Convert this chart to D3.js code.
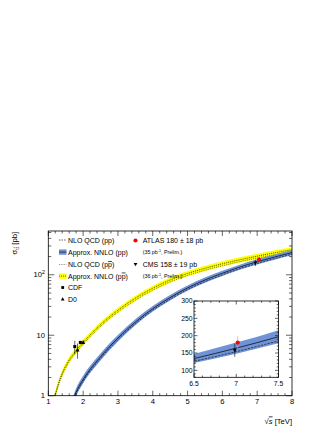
<!DOCTYPE html>
<html>
<head>
<meta charset="utf-8">
<script src="https://cdn.jsdelivr.net/npm/d3@7"></script>
<style>
  body { margin: 0; background: #fff; }
  svg text { font-family: "Liberation Sans", Arial, Helvetica, sans-serif; fill: #000; }
</style>
</head>
<body>
<div id="chart"></div>
<script>
// --- pp curves (sqrt(s) in TeV, sigma in pb)
const ppEnergy = [1.6, 1.7, 1.8, 2.0, 2.5, 3.0, 3.5, 4.0, 4.5, 5.0, 5.5, 6.0, 6.5, 7.0, 7.5, 8.0];
const ppNNLO   = [0.55, 0.81, 1.15, 1.85, 4.4, 9.0, 16.5, 27.5, 42, 60.5, 82, 106, 134, 164, 197, 233];
const ppNNLOHi = [0.64, 0.94, 1.33, 2.13, 5.0, 10.1, 18.4, 30.4, 46.2, 66.5, 90.2, 116.6, 147, 180, 216, 256];
const ppNNLOLo = [0.47, 0.69, 0.98, 1.59, 3.83, 7.9, 14.6, 24.6, 37.6, 54.2, 73.6, 95.2, 121, 148, 178, 210];
const ppNLO    = [0.52, 0.76, 1.08, 1.74, 4.14, 8.5, 15.5, 25.9, 39.5, 57, 77, 99.6, 126, 154, 185, 219];

// --- p-pbar curves
const pbEnergy = [1.1, 1.15, 1.2, 1.3, 1.4, 1.5, 1.6, 1.8, 2.0, 2.5, 3.0, 3.5, 4.0, 4.5, 5.0, 5.5, 6.0, 6.5, 7.0, 7.5, 8.0];
const pbNNLO   = [0.58, 0.8, 1.05, 1.65, 2.35, 3.1, 3.9, 5.6, 7.6, 15, 26, 41, 60, 82, 105, 128, 152, 177, 203, 231, 260];
const pbNNLOHi = [0.66, 0.91, 1.19, 1.86, 2.64, 3.47, 4.35, 6.2, 8.4, 16.5, 28.6, 45, 66, 90, 115.5, 141, 167, 195, 223, 254, 286];
const pbNNLOLo = [0.5, 0.7, 0.92, 1.45, 2.07, 2.74, 3.46, 5.0, 6.8, 13.5, 23.4, 37, 54, 74, 94.5, 115, 137, 159, 183, 208, 234];
const pbNLO    = [0.54, 0.75, 0.98, 1.54, 2.19, 2.89, 3.63, 5.2, 7.07, 14, 24.2, 38, 55.8, 76, 97.6, 119, 141, 165, 189, 215, 242];

// --- measurements
const cdfEnergy = [1.76, 1.92];
const cdfSigma  = [6.5, 7.6];
const cdfErr    = [1.6, 0.5];
const d0Energy  = [1.84, 2.0];
const d0Sigma   = [5.7, 7.6];
const d0Err     = [1.6, 0.6];
const lhcNames  = ["ATLAS", "CMS"];
const lhcEnergy = [7.0, 7.0];
const lhcSigma  = [180, 158];
const lhcErr    = [18, 19];

const xTickLabels = [1, 2, 3, 4, 5, 6, 7, 8];
const insetXTicks = [6.5, 7, 7.5];
const insetYTicks = [100, 150, 200, 250, 300];

const W = 332, H = 430;
const FONT = 7.6;

const svg = d3.select("#chart").append("svg")
  .attr("width", W).attr("height", H);

const L = 48.3, R = 292, T = 231, B = 395.7;
const x = d3.scaleLinear().domain([1, 8]).range([L, R]);
const y = d3.scaleLog().domain([1, 530]).range([B, T]);

const defs = svg.append("defs");
defs.append("clipPath").attr("id", "clipMain")
  .append("rect").attr("x", L).attr("y", T).attr("width", R - L).attr("height", B - T);

function zipRows(es, mid, hi, lo, nlo) {
  return es.map((e, i) => ({ e, mid: mid[i], hi: hi[i], lo: lo[i], nlo: nlo[i] }));
}
const ppRows = zipRows(ppEnergy, ppNNLO, ppNNLOHi, ppNNLOLo, ppNLO);
const pbRows = zipRows(pbEnergy, pbNNLO, pbNNLOHi, pbNNLOLo, pbNLO);

const BLUE = "#7093d6";
const YELLOW = "#ffff00";

function drawCurves(g, sx, sy, rows, fill, midDash, nloDash) {
  const area = d3.area().curve(d3.curveMonotoneX)
    .x(d => sx(d.e)).y0(d => sy(d.lo)).y1(d => sy(d.hi));
  const mid = d3.line().curve(d3.curveMonotoneX).x(d => sx(d.e)).y(d => sy(d.mid));
  const nlo = d3.line().curve(d3.curveMonotoneX).x(d => sx(d.e)).y(d => sy(d.nlo));
  g.append("path").datum(rows).attr("d", area).attr("fill", fill).attr("stroke", "none");
  g.append("path").datum(rows).attr("d", nlo).attr("fill", "none")
    .attr("stroke", "#000").attr("stroke-width", 0.6).attr("stroke-dasharray", nloDash);
  g.append("path").datum(rows).attr("d", mid).attr("fill", "none")
    .attr("stroke", "#000").attr("stroke-width", 0.7)
    .attr("stroke-dasharray", midDash);
}

// main plot curves
const gMain = svg.append("g").attr("clip-path", "url(#clipMain)");
drawCurves(gMain, x, y, pbRows, YELLOW, "1,1", "0.8,1.2");
drawCurves(gMain, x, y, ppRows, BLUE, null, "2,1.2");

// markers
function errBar(g, px, y0, y1, color) {
  g.append("line").attr("x1", px).attr("x2", px).attr("y1", y0).attr("y2", y1)
    .attr("stroke", color).attr("stroke-width", 0.6);
}
function square(g, px, py, s) {
  g.append("rect").attr("x", px - s / 2).attr("y", py - s / 2).attr("width", s).attr("height", s).attr("fill", "#000");
}
function triUp(g, px, py, s, fill) {
  g.append("path").attr("d", `M${px},${py - s * 0.6}L${px + s * 0.55},${py + s * 0.4}L${px - s * 0.55},${py + s * 0.4}Z`).attr("fill", fill);
}
function triDown(g, px, py, s, fill) {
  g.append("path").attr("d", `M${px},${py + s * 0.6}L${px + s * 0.55},${py - s * 0.4}L${px - s * 0.55},${py - s * 0.4}Z`).attr("fill", fill);
}

const gPts = svg.append("g");
cdfEnergy.forEach((e, i) => {
  errBar(gPts, x(e), y(cdfSigma[i] - cdfErr[i]), y(cdfSigma[i] + cdfErr[i]), "#000");
  square(gPts, x(e), y(cdfSigma[i]), 3);
});
d0Energy.forEach((e, i) => {
  errBar(gPts, x(e), y(d0Sigma[i] - d0Err[i]), y(d0Sigma[i] + d0Err[i]), "#000");
  triUp(gPts, x(e), y(d0Sigma[i]), 3.6, "#000");
});
// LHC points (drawn slightly apart so both stay visible)
errBar(gPts, x(lhcEnergy[1]) - 1.8, y(lhcSigma[1] - lhcErr[1]), y(lhcSigma[1] + lhcErr[1]), "#000");
triDown(gPts, x(lhcEnergy[1]) - 1.8, y(lhcSigma[1]), 3.4, "#000");
errBar(gPts, x(lhcEnergy[0]) + 1.8, y(lhcSigma[0] - lhcErr[0]), y(lhcSigma[0] + lhcErr[0]), "#999");
gPts.append("circle").attr("cx", x(lhcEnergy[0]) + 1.8).attr("cy", y(lhcSigma[0])).attr("r", 1.9).attr("fill", "#f00");

// frame + ticks
const gAx = svg.append("g").attr("stroke", "#000").attr("stroke-width", 0.6);
gAx.append("rect").attr("x", L).attr("y", T).attr("width", R - L).attr("height", B - T)
  .attr("fill", "none").attr("stroke-width", 0.8);
d3.range(1, 8.0001, 0.2).forEach(v => {
  const major = Math.abs(v - Math.round(v)) < 1e-6;
  const len = major ? 5 : 2.5;
  gAx.append("line").attr("x1", x(v)).attr("x2", x(v)).attr("y1", B).attr("y2", B - len);
  gAx.append("line").attr("x1", x(v)).attr("x2", x(v)).attr("y1", T).attr("y2", T + len);
});
y.ticks().forEach(v => {
  const major = Math.abs(Math.log10(v) - Math.round(Math.log10(v))) < 1e-6;
  const len = major ? 6 : 3;
  gAx.append("line").attr("x1", L).attr("x2", L + len).attr("y1", y(v)).attr("y2", y(v));
  gAx.append("line").attr("x1", R).attr("x2", R - len).attr("y1", y(v)).attr("y2", y(v));
});

// tick labels
const gLab = svg.append("g").attr("font-size", FONT);
xTickLabels.forEach(v => {
  gLab.append("text").attr("x", x(v)).attr("y", 404.3).attr("text-anchor", "middle").text(v);
});
gLab.append("text").attr("x", 45).attr("y", y(1) + 2.7).attr("text-anchor", "end").text("1");
gLab.append("text").attr("x", 45).attr("y", y(10) + 2.7).attr("text-anchor", "end").text("10");
const t100 = gLab.append("text").attr("x", 45).attr("y", y(100) + 2.7).attr("text-anchor", "end");
t100.append("tspan").text("10");
t100.append("tspan").attr("font-size", 5.4).attr("dy", -3.2).text("2");

// axis titles
const xt = svg.append("text").attr("x", R).attr("y", 423.5).attr("text-anchor", "end").attr("font-size", FONT);
xt.append("tspan").text("\u221A");
xt.append("tspan").attr("font-style", "italic").style("text-decoration", "overline").text("s");
xt.append("tspan").text(" [TeV]");

const yt = svg.append("text").attr("transform", `translate(17,${T + 1}) rotate(-90)`)
  .attr("text-anchor", "end").attr("font-size", FONT);
yt.append("tspan").text("\u03C3");
yt.append("tspan").attr("font-size", 5.2).attr("dy", 1.8).text("t");
yt.append("tspan").attr("font-size", 5.2).style("text-decoration", "overline").text("t");
yt.append("tspan").attr("dy", -1.8).text(" [pb]");

// legend
const LF = 7, SF = 5.3;
const gLeg = svg.append("g");
const lx0 = 59, lx1 = 66.5, ltx = 68;
function legText(px, py, size, parts) {
  const t = gLeg.append("text").attr("x", px).attr("y", py + size * 0.36).attr("font-size", size);
  parts.forEach(p => {
    const s = t.append("tspan").text(p.t);
    if (p.bar) s.style("text-decoration", "overline");
    if (p.sup) s.attr("font-size", size * 0.7).attr("dy", -size * 0.35);
    if (p.down) s.attr("dy", size * 0.35);
  });
}
// NLO pp
gLeg.append("line").attr("x1", lx0).attr("x2", lx1).attr("y1", 240).attr("y2", 240)
  .attr("stroke", "#000").attr("stroke-width", 0.6).attr("stroke-dasharray", "1.5,1");
legText(ltx, 240, LF, [{ t: "NLO QCD (pp)" }]);
// NNLO pp
gLeg.append("rect").attr("x", lx0).attr("y", 249.4).attr("width", lx1 - lx0).attr("height", 5.4).attr("fill", BLUE);
gLeg.append("line").attr("x1", lx0).attr("x2", lx1).attr("y1", 252.1).attr("y2", 252.1)
  .attr("stroke", "#000").attr("stroke-width", 0.6);
legText(ltx, 252.1, LF, [{ t: "Approx. NNLO (pp)" }]);
// NLO ppbar
gLeg.append("line").attr("x1", lx0).attr("x2", lx1).attr("y1", 264.5).attr("y2", 264.5)
  .attr("stroke", "#000").attr("stroke-width", 0.5).attr("stroke-dasharray", "0.8,1");
legText(ltx, 264.5, LF, [{ t: "NLO QCD (p" }, { t: "p", bar: true }, { t: ")" }]);
// NNLO ppbar
gLeg.append("rect").attr("x", lx0).attr("y", 273.4).attr("width", lx1 - lx0).attr("height", 5.4).attr("fill", YELLOW);
gLeg.append("line").attr("x1", lx0).attr("x2", lx1).attr("y1", 276.1).attr("y2", 276.1)
  .attr("stroke", "#000").attr("stroke-width", 0.6).attr("stroke-dasharray", "1,1");
legText(ltx, 276.1, LF, [{ t: "Approx. NNLO (p" }, { t: "p", bar: true }, { t: ")" }]);
// CDF, D0
square(gLeg, 62.7, 287.5, 2.8);
legText(ltx, 287.5, LF, [{ t: "CDF" }]);
triUp(gLeg, 62.7, 299.2, 3.4, "#000");
legText(ltx, 299.2, LF, [{ t: "D0" }]);
// ATLAS, CMS
gLeg.append("circle").attr("cx", 135.5).attr("cy", 240.5).attr("r", 2.1).attr("fill", "#f00");
legText(142.7, 240.5, LF, [{ t: `${lhcNames[0]} ${lhcSigma[0]} \u00B1 ${lhcErr[0]} pb` }]);
legText(142.7, 252, SF, [{ t: "(35 pb" }, { t: "-1", sup: true }, { t: ", Prelim.)", down: true }]);
triDown(gLeg, 135.5, 264.3, 3.4, "#000");
legText(142.7, 264.3, LF, [{ t: `${lhcNames[1]} ${lhcSigma[1]} \u00B1 ${lhcErr[1]} pb` }]);
legText(142.7, 275.8, SF, [{ t: "(36 pb" }, { t: "-1", sup: true }, { t: ", Prelim.)", down: true }]);

// ---- inset
const iL = 194, iR = 278.5, iT = 301, iB = 377.3;
const xi = d3.scaleLinear().domain([6.5, 7.5]).range([iL, iR]);
const yi = d3.scaleLinear().domain([80, 300]).range([iB, iT]);
defs.append("clipPath").attr("id", "clipInset")
  .append("rect").attr("x", iL).attr("y", iT).attr("width", iR - iL).attr("height", iB - iT);
svg.append("rect").attr("x", iL).attr("y", iT).attr("width", iR - iL).attr("height", iB - iT).attr("fill", "#fff");
const gIn = svg.append("g").attr("clip-path", "url(#clipInset)");
drawCurves(gIn, xi, yi, ppRows, BLUE, null, "2.2,1.2");

const gInPts = svg.append("g");
errBar(gInPts, xi(lhcEnergy[1]) - 1.5, yi(lhcSigma[1] - lhcErr[1]), yi(lhcSigma[1] + lhcErr[1]), "#000");
triDown(gInPts, xi(lhcEnergy[1]) - 1.5, yi(lhcSigma[1]), 3.6, "#000");
errBar(gInPts, xi(lhcEnergy[0]) + 1.5, yi(lhcSigma[0] - lhcErr[0]), yi(lhcSigma[0] + lhcErr[0]), "#aaa");
gInPts.append("circle").attr("cx", xi(lhcEnergy[0]) + 1.5).attr("cy", yi(lhcSigma[0])).attr("r", 2.1).attr("fill", "#f00");

const gInAx = svg.append("g").attr("stroke", "#000").attr("stroke-width", 0.6);
gInAx.append("rect").attr("x", iL).attr("y", iT).attr("width", iR - iL).attr("height", iB - iT)
  .attr("fill", "none").attr("stroke-width", 0.8);
d3.range(6.5, 7.5001, 0.1).forEach(v => {
  const major = insetXTicks.some(t => Math.abs(t - v) < 1e-6);
  const len = major ? 3.5 : 1.8;
  gInAx.append("line").attr("x1", xi(v)).attr("x2", xi(v)).attr("y1", iB).attr("y2", iB - len);
  gInAx.append("line").attr("x1", xi(v)).attr("x2", xi(v)).attr("y1", iT).attr("y2", iT + len);
});
d3.range(80, 300.001, 10).forEach(v => {
  const major = insetYTicks.includes(v);
  const len = major ? 3.5 : 1.8;
  gInAx.append("line").attr("x1", iL).attr("x2", iL + len).attr("y1", yi(v)).attr("y2", yi(v));
  gInAx.append("line").attr("x1", iR).attr("x2", iR - len).attr("y1", yi(v)).attr("y2", yi(v));
});
const gInLab = svg.append("g").attr("font-size", 6.8);
insetXTicks.forEach(v => {
  gInLab.append("text").attr("x", xi(v)).attr("y", 386).attr("text-anchor", "middle").text(v);
});
insetYTicks.forEach(v => {
  gInLab.append("text").attr("x", iL - 1.5).attr("y", yi(v) + 2.4).attr("text-anchor", "end").text(v);
});
</script>
</body>
</html>
